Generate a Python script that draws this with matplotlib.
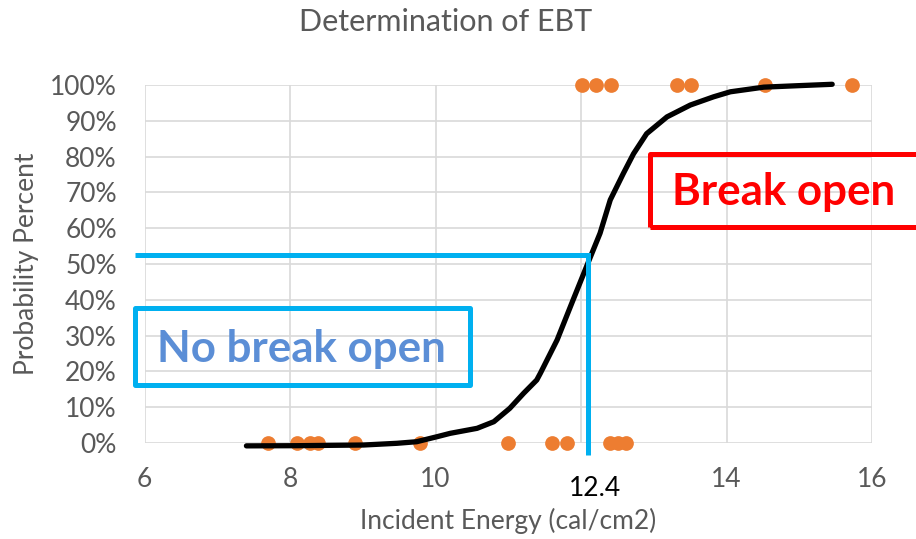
import matplotlib.pyplot as plt
from matplotlib.ticker import PercentFormatter
from matplotlib.patches import Rectangle

plt.rcParams['font.family'] = ['Lato', 'DejaVu Sans']

# data
no_break_x = [7.69, 8.09, 8.27, 8.39, 8.89, 9.79, 11.0, 11.6, 11.8, 12.4, 12.5, 12.61]
no_break_y = [0] * len(no_break_x)
break_x = [12.01, 12.21, 12.41, 13.32, 13.51, 14.52, 15.72]
break_y = [1] * len(break_x)

# fitted curve
fit_x = [7.40, 8.09, 9.01, 9.47, 9.74, 10.02, 10.20, 10.57, 10.80, 11.02, 11.21,
         11.39, 11.44, 11.67, 11.89, 12.12, 12.26, 12.40, 12.58, 12.72, 12.90,
         13.18, 13.50, 13.82, 14.05, 14.51, 14.97, 15.45]
fit_y = [-0.008, -0.0075, -0.0056, -0.0008, 0.0036, 0.0176, 0.027, 0.041, 0.0595,
         0.097, 0.139, 0.176, 0.195, 0.288, 0.400, 0.516, 0.586, 0.679, 0.753,
         0.808, 0.864, 0.911, 0.944, 0.967, 0.981, 0.994, 0.998, 1.002]

ebt = 12.10
ebt_label = "12.4"
ebt_prob = 0.525

fig = plt.figure(figsize=(4.58, 2.695), dpi=200)
ax = fig.add_axes([0.1578, 0.1781, 0.7944, 0.6642])

gray = '#595959'
ax.set_xlim(6, 16)
ax.set_ylim(0, 1)
ax.set_xticks([6, 8, 10, 12, 14, 16])
ax.set_xticklabels(['6', '8', '10', '', '14', '16'])
ax.set_yticks([i / 10 for i in range(11)])
ax.yaxis.set_major_formatter(PercentFormatter(1.0, decimals=0))
ax.grid(True, color='#D9D9D9', linewidth=0.6)
ax.set_axisbelow(True)
for s in ax.spines.values():
    s.set_visible(False)
ax.tick_params(length=0, labelsize=9.5, colors=gray)
ax.tick_params(axis='y', pad=10)
ax.tick_params(axis='x', pad=8.5)

ax.plot(no_break_x, no_break_y, 'o', color='#ED7D31', ms=5.3, mew=0, clip_on=False, zorder=3)
ax.plot(break_x, break_y, 'o', color='#ED7D31', ms=5.3, mew=0, clip_on=False, zorder=3)
ax.plot(fit_x, fit_y, color='black', lw=1.9, solid_capstyle='round',
        solid_joinstyle='round', clip_on=False, zorder=4)

# EBT guide lines
ax.plot([5.87, ebt, ebt], [ebt_prob, ebt_prob, -0.034], color='#00B0F0', lw=1.8,
        solid_joinstyle='miter', solid_capstyle='butt', clip_on=False, zorder=5)
ax.text(12.19, -0.126, ebt_label, ha='center', va='center', fontsize=9.5, color='black',
        transform=ax.get_xaxis_transform())

# region boxes
ax.add_patch(Rectangle((5.87, 0.162), 10.47 - 5.87, 0.377 - 0.162, fill=False,
                       ec='#00B0F0', lw=1.8, joinstyle='round', clip_on=False, zorder=5))
ax.text(6.168, 0.227, "No break open", fontsize=15.8, fontweight='bold', color='#5B8ED6',
        ha='left', va='baseline', zorder=6)
ax.add_patch(Rectangle((12.95, 0.602), 16.9 - 12.95, 0.807 - 0.602, fill=False,
                       ec='#FF0000', lw=1.8, joinstyle='round', clip_on=False, zorder=5))
ax.text(13.247, 0.665, "Break open", fontsize=15.8, fontweight='bold', color='#FF0000',
        ha='left', va='baseline', zorder=6)

ax.set_xlabel("Incident Energy (cal/cm2)", fontsize=9.5, color=gray, labelpad=6)
ax.set_ylabel("Probability Percent", fontsize=9.5, color=gray, labelpad=4)
fig.text(446 / 916, 1 - 22 / 539, "Determination of EBT", fontsize=11, color=gray,
         ha='center', va='center')

fig.savefig("out.png", dpi=200)
